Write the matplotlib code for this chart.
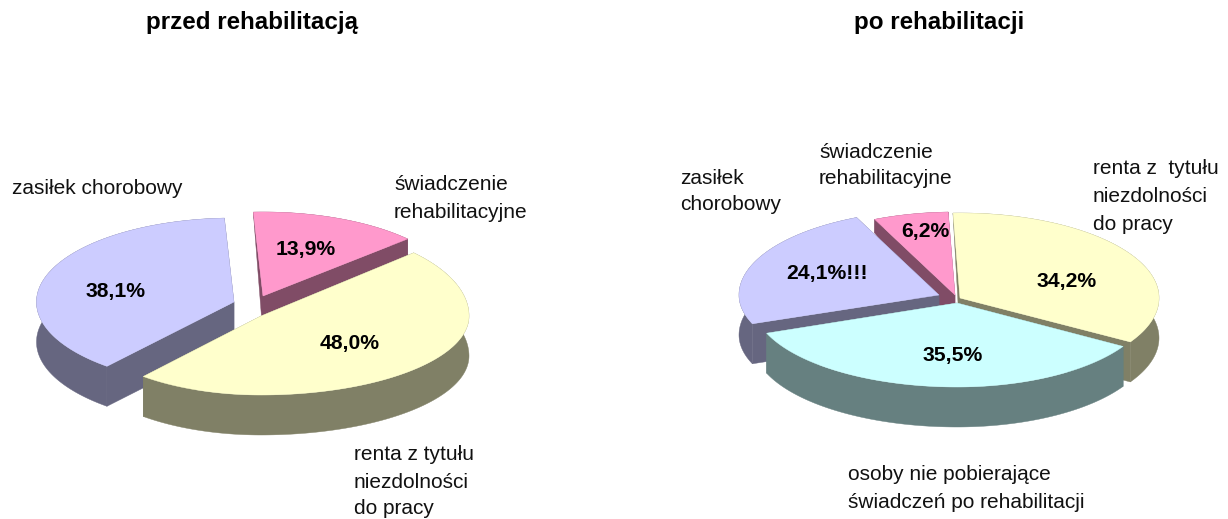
import numpy as np
import matplotlib
matplotlib.use("Agg")
import matplotlib.pyplot as plt
from matplotlib.patches import Polygon

plt.rcParams['font.family'] = ['Liberation Sans', 'DejaVu Sans']

# data
left_title = "przed rehabilitacją"
right_title = "po rehabilitacji"
left_names = ["świadczenie rehabilitacyjne", "renta z tytułu niezdolności do pracy", "zasiłek chorobowy"]
left_values = [13.9, 48.0, 38.1]
right_names = ["renta z tytułu niezdolności do pracy", "osoby nie pobierające świadczeń po rehabilitacji",
               "zasiłek chorobowy", "świadczenie rehabilitacyjne"]
right_values = [34.2, 35.5, 24.1, 6.2]
left_value_labels = ["13,9%", "48,0%", "38,1%"]
right_value_labels = ["34,2%", "35,5%", "24,1%!!!", "6,2%"]

PINK, YELLOW, LILAC, CYAN = "#FF99CC", "#FFFFCC", "#CCCCFF", "#CCFFFF"
PINK_S, YELLOW_S, LILAC_S, CYAN_S = "#804C66", "#808066", "#666680", "#668080"

# layout per slice: apex x, apex y, rx right, rx left, ry back, ry front
left_geom = [(263, 296, 197, 197, 84, 84), (261, 316, 208, 183, 93, 79), (234, 302, 197.5, 197.5, 84, 84)]
right_geom = [(960, 298, 199, 199, 85, 85), (957, 303, 194, 204, 84, 84),
              (939, 295, 200, 200, 85, 80), (955, 295, 195, 195, 83, 83)]


def depth_left(y):
    return np.clip((y - 210) * 0.62, 0, 40)


def depth_right(y):
    return np.clip((y - 212) * 1.85, 0, 40)


def slice_outline(t0, t1, g):
    ax_, ay_, rr, rl, rb, rf = g
    t = np.radians(np.linspace(t0, t1, 160))
    s, c = np.sin(t), np.cos(t)
    x = ax_ + s * np.where(s >= 0, rr, rl)
    y = ay_ - c * np.where(c >= 0, rb, rf)
    return np.r_[ax_, x], np.r_[ay_, y]


def strip(ax, x, y, d, side):
    top = np.c_[x, y]
    bottom = np.c_[x, y + d][::-1]
    ax.add_patch(Polygon(np.r_[top, bottom], closed=True, fc=side, ec=side, lw=0.3))


def draw_slice(ax, t0, t1, g, col, side, depth):
    x, y = slice_outline(t0, t1, g)
    d = depth(y)
    strip(ax, x[:2], y[:2], d[:2], side)
    strip(ax, x[[0, -1]], y[[0, -1]], d[[0, -1]], side)
    strip(ax, x[1:], y[1:], d[1:], side)
    ax.add_patch(Polygon(np.c_[x, y], closed=True, fc=col, ec=col, lw=0.3))


def draw_pie(ax, values, start, geoms, cols, sides, depth, order):
    edges = start + np.r_[0, np.cumsum(values)] / np.sum(values) * 360
    for k in order:
        draw_slice(ax, edges[k], edges[k + 1], geoms[k], cols[k], sides[k], depth)


fig = plt.figure(figsize=(12.28, 5.19), dpi=100)
ax = fig.add_axes([0, 0, 1, 1])
ax.set_xlim(0, 1228)
ax.set_ylim(519, 0)
ax.axis("off")

draw_pie(ax, left_values, -2.8, left_geom, [PINK, YELLOW, LILAC], [PINK_S, YELLOW_S, LILAC_S],
         depth_left, [0, 2, 1])
draw_pie(ax, right_values, -2.0, right_geom, [YELLOW, CYAN, LILAC, PINK], [YELLOW_S, CYAN_S, LILAC_S, PINK_S],
         depth_right, [0, 3, 2, 1])

TITLE_FS, LABEL_FS, PCT_FS = 17.4, 15.05, 15.2
ax.text(252, 22, left_title, ha="center", va="center", fontsize=TITLE_FS, fontweight="bold")
ax.text(939, 22, right_title, ha="center", va="center", fontsize=TITLE_FS, fontweight="bold")

for txt, (x, y) in zip(left_value_labels, [(306, 249), (350, 343), (116, 291)]):
    ax.text(x, y, txt, ha="center", va="center", fontsize=PCT_FS, fontweight="bold")
for txt, (x, y) in zip(right_value_labels, [(1067, 281), (953, 356), (827, 273), (925, 232)]):
    ax.text(x, y, txt, ha="center", va="center", fontsize=PCT_FS, fontweight="bold")

captions = [
    (12, 189, "zasiłek chorobowy"),
    (394, 185, "świadczenie"), (394, 213, "rehabilitacyjne"),
    (354, 455, "renta z tytułu"), (354, 482, "niezdolności"), (354, 509, "do pracy"),
    (680, 178, "zasiłek"), (680, 205, "chorobowy"),
    (819, 152, "świadczenie"), (819, 179, "rehabilitacyjne"),
    (1093, 169, "renta z  tytułu"), (1093, 197, "niezdolności"), (1093, 225, "do pracy"),
    (848, 474, "osoby nie pobierające"), (848, 502, "świadczeń po rehabilitacji"),
]
for x, y, txt in captions:
    ax.text(x, y, txt, ha="left", va="center", fontsize=LABEL_FS, color="#111111")

fig.savefig("out.png", dpi=100)
